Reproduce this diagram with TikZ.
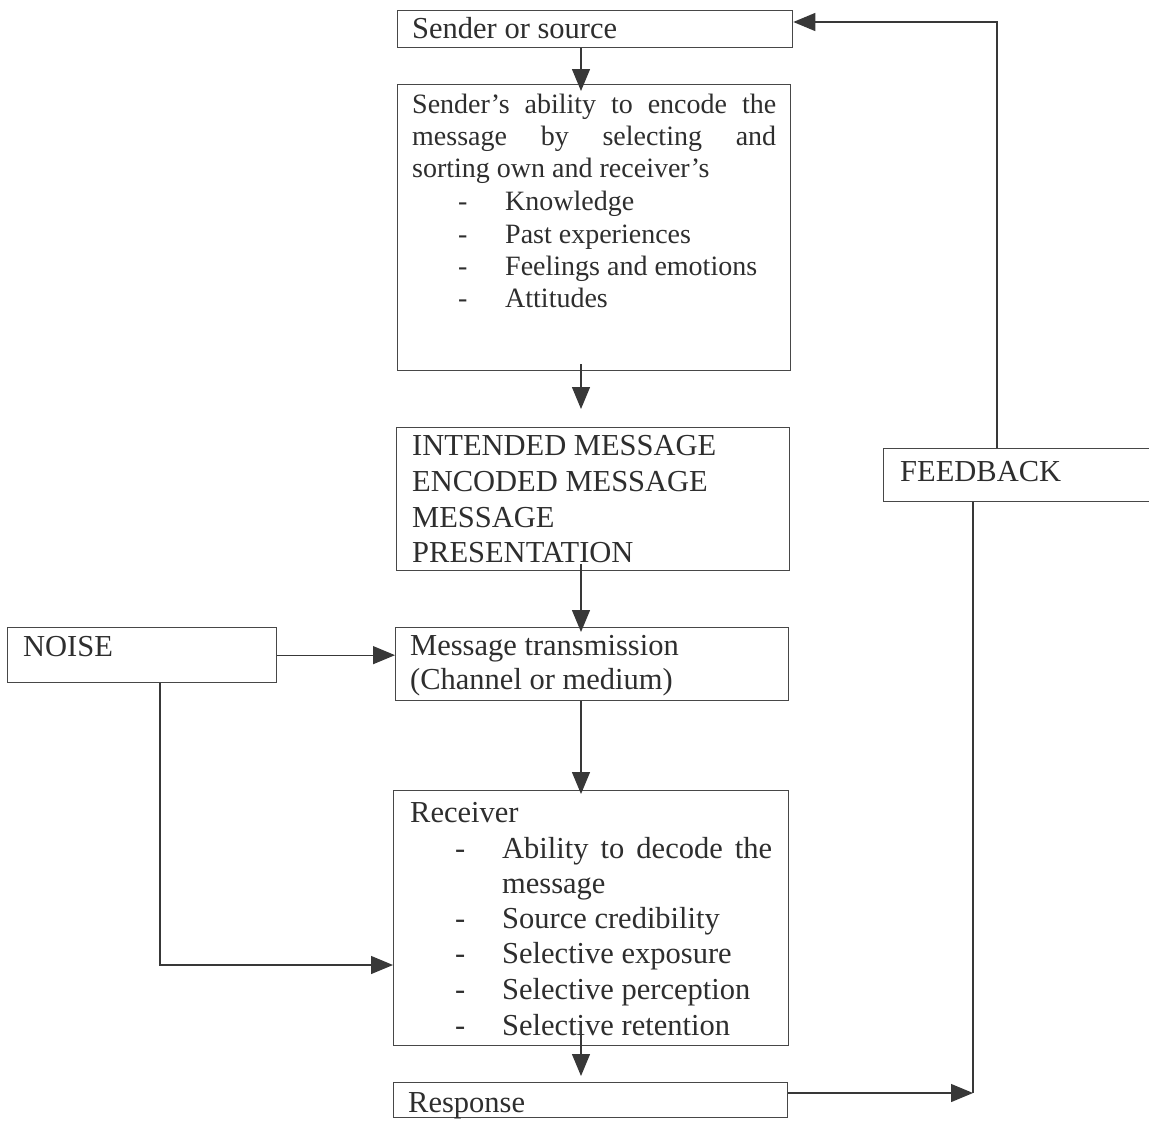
\documentclass[tikz,border=0pt]{standalone}
\usepackage{fontspec}
\setmainfont{Liberation Serif}
\usetikzlibrary{arrows.meta}

\tikzset{
  box/.style={draw=black!72, line width=1.3pt, fill=none, inner sep=0pt, anchor=north west},
  txt/.style={inner sep=0pt, anchor=base west, text=black!82,
              font=\fontsize{30.5}{36}\selectfont},
  smalltxt/.style={txt, font=\fontsize{28}{33}\selectfont},
  link/.style={draw=black!78, line width=1.3pt},
  arr/.style={link, -{Triangle[length=22pt,width=18pt]}},
}

\begin{document}
\begin{tikzpicture}[x=1pt,y=1pt]
\useasboundingbox (0,0) rectangle (1149,-1120);

% boxes
\node[box, minimum width=395pt, minimum height=37pt]  (sender)   at (397,-10)   {};
\node[box, minimum width=393pt, minimum height=286pt] (ability)  at (397,-84)   {};
\node[box, minimum width=393pt, minimum height=143pt] (message)  at (396,-427)  {};
\node[box, minimum width=393pt, minimum height=73pt]  (trans)    at (395,-627)  {};
\node[box, minimum width=269pt, minimum height=55pt]  (noise)    at (7,-627)    {};
\node[box, minimum width=395pt, minimum height=255pt] (receiver) at (393,-790)  {};
\node[box, minimum width=394pt, minimum height=35pt]  (response) at (393,-1082) {};
\node[box, minimum width=290pt, minimum height=53pt]  (feedback) at (883,-448)  {};

% texts
\node[txt] (tsender) at (412,-38) {Sender or source};

\node[smalltxt] (ta1) at (412,-113) {\makebox[364pt][s]{Sender’s ability to encode the}};
\node[smalltxt] (ta2) at (412,-145) {\makebox[364pt][s]{message by selecting and}};
\node[smalltxt] (ta3) at (412,-177) {sorting own and receiver’s};
\node[smalltxt] (da4) at (458,-210) {-};
\node[smalltxt] (ta4) at (505,-210) {Knowledge};
\node[smalltxt] (da5) at (458,-243) {-};
\node[smalltxt] (ta5) at (505,-243) {Past experiences};
\node[smalltxt] (da6) at (458,-275) {-};
\node[smalltxt] (ta6) at (505,-275) {Feelings and emotions};
\node[smalltxt] (da7) at (458,-307) {-};
\node[smalltxt] (ta7) at (505,-307) {Attitudes};

\node[txt] (tm1) at (412,-455) {INTENDED MESSAGE};
\node[txt] (tm2) at (412,-491) {ENCODED MESSAGE};
\node[txt] (tm3) at (412,-527) {MESSAGE};
\node[txt] (tm4) at (412,-562) {PRESENTATION};

\node[txt] (tt1) at (410,-655) {Message transmission};
\node[txt] (tt2) at (410,-689) {(Channel or medium)};

\node[txt] (tnoise) at (23,-656) {NOISE};

\node[txt] (tr1) at (410,-822) {Receiver};
\node[txt] (dr2) at (455,-858) {-};
\node[txt] (tr2) at (502,-858) {\makebox[270pt][s]{Ability to decode the}};
\node[txt] (tr3) at (502,-893) {message};
\node[txt] (dr4) at (455,-928) {-};
\node[txt] (tr4) at (502,-928) {Source credibility};
\node[txt] (dr5) at (455,-963) {-};
\node[txt] (tr5) at (502,-963) {Selective exposure};
\node[txt] (dr6) at (455,-999) {-};
\node[txt] (tr6) at (502,-999) {Selective perception};
\node[txt] (dr7) at (455,-1035) {-};
\node[txt] (tr7) at (502,-1035) {Selective retention};

\node[txt] (tresp) at (408,-1112) {Response};
\node[txt] (tfeed) at (900,-481) {FEEDBACK};

% main column of arrows
\coordinate (cx) at (581,0);
\draw[arr] (sender.south -| cx) -- ([yshift=-7pt]ability.north -| cx);
\draw[arr] ([yshift=7pt]ability.south -| cx) -- ([yshift=18pt]message.north -| cx);
\draw[arr] ([yshift=7pt]message.south -| cx) -- ([yshift=-5pt]trans.north -| cx);
\draw[arr] (trans.south -| cx) -- ([yshift=-4pt]receiver.north -| cx);
\draw[arr] ([yshift=20pt]receiver.south -| cx) -- ([yshift=6pt]response.north -| cx);

% noise paths
\draw[arr] (noise.east) -- (trans.west |- noise.east);
\coordinate (nz) at (160,-965);
\draw[arr] (noise.south -| nz) -- (nz) -- (receiver.west |- nz);

% feedback loop
\coordinate (fbtop) at (997,-22);
\draw[arr] (feedback.north -| fbtop) -- (fbtop) -- (sender.east |- fbtop);
\coordinate (fbbot) at (973,-1093);
\draw[link] (feedback.south -| fbbot) -- (fbbot);
\draw[arr] (response.east |- fbbot) -- (fbbot);
\end{tikzpicture}
\end{document}
